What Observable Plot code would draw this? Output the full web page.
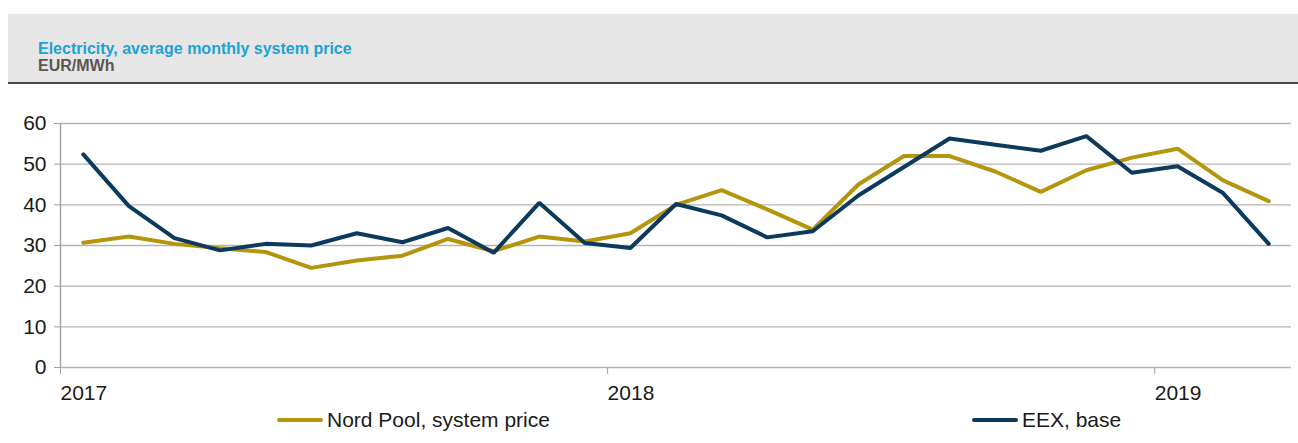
<!DOCTYPE html>
<html>
<head>
<meta charset="utf-8">
<script src="https://cdn.jsdelivr.net/npm/d3@7"></script>
<script src="https://cdn.jsdelivr.net/npm/@observablehq/plot@0.6"></script>
<style>
  html, body { margin: 0; padding: 0; background: #fff; }
  body { width: 1298px; height: 443px; position: relative; overflow: hidden; font-family: "Liberation Sans", Arial, sans-serif; }
  #header { position: absolute; left: 8px; top: 14px; width: 1290px; height: 68px; background: #e6e6e6; border-bottom: 2px solid #4a4a4a; }
  #title { position: absolute; left: 30px; top: 26px; font-size: 16px; line-height: 18px; font-weight: bold; color: #1ba3d6; white-space: nowrap; }
  #subtitle { position: absolute; left: 30px; top: 43px; font-size: 16px; line-height: 18px; font-weight: bold; color: #5d5550; white-space: nowrap; }
  #chart { position: absolute; left: 0; top: 84px; }
  .legend-item { position: absolute; top: 408px; font-size: 21px; line-height: 24px; color: #1a1a1a; display: flex; align-items: center; white-space: nowrap; }
  .swatch { width: 46px; height: 4px; border-radius: 2px; margin-right: 4px; }
</style>
</head>
<body>
<div id="header">
  <div id="title">Electricity, average monthly system price</div>
  <div id="subtitle">EUR/MWh</div>
</div>
<div id="chart"></div>
<div class="legend-item" style="left:277px"><div class="swatch" style="background:#b5950b"></div>Nord Pool, system price</div>
<div class="legend-item" style="left:972px"><div class="swatch" style="background:#0b3a5d"></div>EEX, base</div>
<script>
const months = ["2017-01","2017-02","2017-03","2017-04","2017-05","2017-06","2017-07","2017-08","2017-09","2017-10","2017-11","2017-12",
                "2018-01","2018-02","2018-03","2018-04","2018-05","2018-06","2018-07","2018-08","2018-09","2018-10","2018-11","2018-12",
                "2019-01","2019-02","2019-03"];
const nordPool = [30.7, 32.2, 30.4, 29.3, 28.4, 24.5, 26.3, 27.5, 31.6, 28.6, 32.2, 31.0,
                  33.0, 40.0, 43.6, 38.9, 33.9, 45.0, 52.0, 52.0, 48.2, 43.2, 48.5, 51.6,
                  53.8, 46.0, 40.9];
const eex = [52.4, 39.7, 31.8, 28.8, 30.4, 30.0, 33.0, 30.8, 34.3, 28.2, 40.5, 30.6,
             29.4, 40.2, 37.4, 32.0, 33.5, 42.3, 49.3, 56.3, 54.8, 53.3, 56.9, 47.9,
             49.5, 42.9, 30.4];
const yearLabels = ["2017", "2018", "2019"];
const yTicks = [0, 10, 20, 30, 40, 50, 60];

const seriesNames = ["Nord Pool, system price", "EEX, base"];
const seriesColors = ["#b5950b", "#0b3a5d"];
const rows = [];
months.forEach((m, i) => {
  rows.push({month: m, t: i + 0.5, value: nordPool[i], series: seriesNames[0]});
  rows.push({month: m, t: i + 0.5, value: eex[i], series: seriesNames[1]});
});

const chart = Plot.plot({
  width: 1298,
  height: 321,
  marginLeft: 60,
  marginRight: 7,
  marginTop: 39,
  marginBottom: 38,
  style: {fontFamily: "'Liberation Sans', Arial, sans-serif", fontSize: "21px", color: "#1a1a1a", background: "transparent", overflow: "visible"},
  x: {domain: [0, months.length]},
  y: {domain: [0, 60]},
  color: {domain: seriesNames, range: seriesColors},
  marks: [
    Plot.ruleY(yTicks, {stroke: "#b4b4b4", strokeWidth: 1.4}),
    Plot.ruleX([0], {stroke: "#a0a0a0", strokeWidth: 1.4}),
    Plot.axisY({ticks: yTicks, tickSize: 6, tickPadding: 8, stroke: "#a0a0a0", label: null, fontSize: 21}),
    Plot.axisX({ticks: [0, 12, 24], tickFormat: d => yearLabels[d / 12], tickSize: 7, tickPadding: 11, textAnchor: "start", stroke: "#a0a0a0", label: null, fontSize: 21}),
    Plot.line(rows, {x: "t", y: "value", z: "series", stroke: "series", strokeWidth: 4, strokeLinejoin: "miter", strokeLinecap: "round"})
  ]
});
document.getElementById("chart").appendChild(chart);
</script>
</body>
</html>
